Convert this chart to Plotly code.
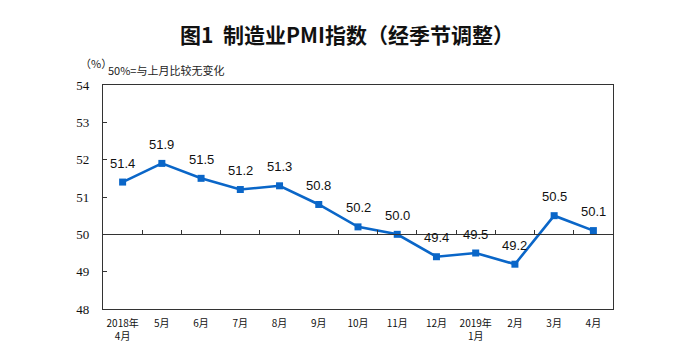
import plotly.graph_objects as go

categories = ["2018年<br>4月", "5月", "6月", "7月", "8月", "9月", "10月", "11月", "12月",
              "2019年<br>1月", "2月", "3月", "4月"]
pmi = [51.4, 51.9, 51.5, 51.2, 51.3, 50.8, 50.2, 50.0, 49.4, 49.5, 49.2, 50.5, 50.1]
y_ticks = [48, 49, 50, 51, 52, 53, 54]
label_text = [f"{v:.1f}" for v in pmi]

n = len(categories)
OFF = 8  # default page body margin
W, H = 686 - OFF, 359 - OFF
L, R, T, B = 103 - OFF, 73, 85 - OFF, 50
pw, ph = W - L - R, H - T - B

def px_x(p):
    return (p - OFF - L) / pw

def px_y(p):
    return (H - B - (p - OFF)) / ph

fig = go.Figure()
fig.add_trace(go.Scatter(
    x=list(range(n)), y=pmi,
    mode="lines+markers",
    line=dict(color="#0a66c8", width=2.6),
    marker=dict(symbol="square", size=7, color="#0a66c8"),
    hoverinfo="skip",
))
# invisible trace on the secondary x axis so it renders (axis line at 50)
fig.add_trace(go.Scatter(x=[-0.5], y=[50], xaxis="x2", mode="markers",
                         marker=dict(opacity=0), hoverinfo="skip", showlegend=False))

value_labels = [
    dict(x=i, y=v, text=t, xref="x", yref="y", showarrow=False,
         xanchor="center", yanchor="middle", yshift=19,
         font=dict(family="Liberation Sans, Arial", size=13, color="#111"))
    for i, (v, t) in enumerate(zip(pmi, label_text))
]

fig.update_layout(
    width=W, height=H,
    paper_bgcolor="white", plot_bgcolor="white",
    margin=dict(l=L, r=R, t=T, b=B),
    showlegend=False,
    title=dict(text="<b>图1  制造业PMI指数（经季节调整）</b>", x=0.5, xanchor="center",
               y=1 - (36 - OFF) / H, yanchor="middle",
               font=dict(family="Noto Sans CJK SC", size=21, color="#111")),
    xaxis=dict(range=[-0.5, n - 0.5], tickmode="array", tickvals=list(range(n)),
               ticktext=categories, showgrid=False, zeroline=False,
               showline=True, linecolor="#333", linewidth=1.3, mirror=True, ticks="",
               ticklabelstandoff=5,
               tickfont=dict(family="Noto Sans CJK SC", size=10, color="#111")),
    xaxis2=dict(range=[-0.5, n - 0.5], overlaying="x", anchor="free",
                position=(50 - 48) / (54 - 48),
                tickmode="array", tickvals=[i + 0.5 for i in range(n - 1)],
                showticklabels=False, showgrid=False, zeroline=False,
                showline=True, linecolor="#333", linewidth=1.3,
                ticks="inside", ticklen=4, tickcolor="#333", tickwidth=1.2),
    yaxis=dict(range=[48, 54], tickvals=y_ticks, showgrid=False, zeroline=False,
               showline=True, linecolor="#333", linewidth=1.3, mirror=True,
               ticks="inside", ticklen=4, tickcolor="#333",
               ticklabelstandoff=10,
               tickfont=dict(family="Liberation Serif, Times New Roman", size=13, color="#111")),
    annotations=value_labels + [
        dict(text="（%）", xref="paper", yref="paper",
             x=px_x(78), y=px_y(63), xanchor="left", yanchor="middle", showarrow=False,
             font=dict(family="Noto Sans CJK SC", size=11, color="#222")),
        dict(text="50%=与上月比较无变化", xref="paper", yref="paper",
             x=px_x(106), y=px_y(70), xanchor="left", yanchor="middle", showarrow=False,
             font=dict(family="Noto Sans CJK SC", size=11, color="#222")),
    ],
)
fig.write_html("out.html")
